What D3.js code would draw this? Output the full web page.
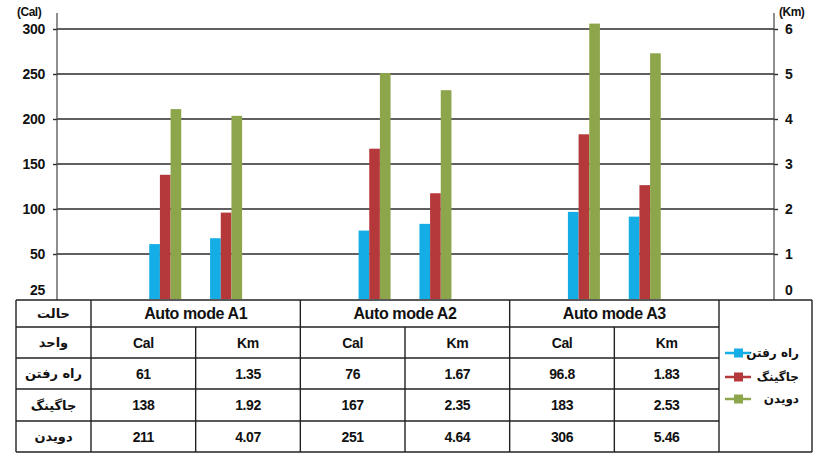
<!DOCTYPE html>
<html>
<head>
<meta charset="utf-8">
<script src="https://cdn.jsdelivr.net/npm/d3@7"></script>
<style>
  body { margin: 0; background: #fff; }
  svg { display: block; font-family: "Liberation Sans", Arial, "DejaVu Sans", sans-serif; font-weight: bold; }
  .fa { font-family: "DejaVu Sans", "Noto Sans", sans-serif; }
</style>
</head>
<body>
<svg id="chart" width="830" height="453"></svg>
<script>
// ---- data ----
const modes = ["Auto mode A1", "Auto mode A2", "Auto mode A3"];
const units = ["Cal", "Km"];
const seriesNames = ["راه رفتن", "جاگینگ", "دویدن"];
const rowHeader = "حالت";
const unitHeader = "واحد";

const calWalk = [61, 76, 96.8];
const calJog  = [138, 167, 183];
const calRun  = [211, 251, 306];
const kmWalk  = [1.35, 1.67, 1.83];
const kmJog   = [1.92, 2.35, 2.53];
const kmRun   = [4.07, 4.64, 5.46];

const calTicks = [0, 50, 100, 150, 200, 250, 300];
const calTickLabels = ["25", "50", "100", "150", "200", "250", "300"];
const kmTicks = [0, 1, 2, 3, 4, 5, 6];
const kmTickLabels = ["0", "1", "2", "3", "4", "5", "6"];
const calUnitLabel = "(Cal)";
const kmUnitLabel = "(Km)";

const colors = ["#14ade6", "#b5393b", "#8da54b"];

// ---- layout ----
const svg = d3.select("#chart");
const axisLeftX = 57, axisRightX = 774, axisTop = 13;
const tableLeft = 16, tableRight = 812;
const rowEdges = [300, 327, 358, 389, 421, 452];

const yCal = d3.scaleLinear().domain([0, 300]).range([299, 29]);
const yKm  = d3.scaleLinear().domain([0, 6]).range([299, 29]);

const x0 = d3.scaleBand().domain(modes).range([91, 719]);
const x1 = d3.scalePoint().domain(units).range([0, x0.bandwidth()]).padding(1.22);
const xs = d3.scaleBand().domain(seriesNames).range([-16, 16]);

const calSeries = [calWalk, calJog, calRun];
const kmSeries = [kmWalk, kmJog, kmRun];

// gridlines
svg.append("g").selectAll("line")
  .data(calTicks.filter(t => t > 0))
  .join("line")
  .attr("x1", axisLeftX).attr("x2", axisRightX)
  .attr("y1", d => yCal(d)).attr("y2", d => yCal(d))
  .attr("stroke", "#2b2b2b").attr("stroke-width", 1.4);

// bars
const barData = [];
modes.forEach((m, i) => {
  units.forEach(u => {
    seriesNames.forEach((s, k) => {
      const v = (u === "Cal" ? calSeries : kmSeries)[k][i];
      barData.push({ m, u, s, k, v });
    });
  });
});
svg.append("g").selectAll("rect")
  .data(barData)
  .join("rect")
  .attr("x", d => x0(d.m) + x1(d.u) + xs(d.s))
  .attr("width", xs.bandwidth())
  .attr("y", d => (d.u === "Cal" ? yCal : yKm)(d.v))
  .attr("height", d => { const sc = d.u === "Cal" ? yCal : yKm; return sc(0) - sc(d.v); })
  .attr("fill", d => colors[d.k]);

// axes
function styleAxis(g) {
  g.select(".domain").remove();
  g.selectAll(".tick line").attr("stroke", "#2b2b2b").attr("stroke-width", 1.4)
    .filter(d => d === 0).remove();
  g.selectAll(".tick text")
    .attr("fill", "#111")
    .style("font-size", "14px")
    .style("font-weight", "bold")
    .style("letter-spacing", "-0.3px")
    .style("font-family", "\"Liberation Sans\", Arial, sans-serif")
    .filter(d => d === 0).attr("y", -9);
}
const gl = svg.append("g").attr("transform", `translate(${axisLeftX},0)`)
  .call(d3.axisLeft(yCal).tickValues(calTicks).tickSize(4).tickPadding(8)
    .tickFormat((d, i) => calTickLabels[i]));
styleAxis(gl);
const gr = svg.append("g").attr("transform", `translate(${axisRightX},0)`)
  .call(d3.axisRight(yKm).tickValues(kmTicks).tickSize(4).tickPadding(7)
    .tickFormat((d, i) => kmTickLabels[i]));
styleAxis(gr);

[axisLeftX, axisRightX].forEach(x => {
  svg.append("line").attr("x1", x).attr("x2", x).attr("y1", axisTop).attr("y2", rowEdges[0])
    .attr("stroke", "#444").attr("stroke-width", 1.2);
});

svg.append("text").attr("x", 17).attr("y", 16).text(calUnitLabel)
  .style("font-size", "12px").style("letter-spacing", "-0.5px").attr("fill", "#111");
svg.append("text").attr("x", 779).attr("y", 16).text(kmUnitLabel)
  .style("font-size", "12px").style("letter-spacing", "-0.5px").attr("fill", "#111");

// ---- data table ----
const tg = svg.append("g");
const lineColor = "#222", lw = 1.4;
function hline(y, xa, xb) {
  tg.append("line").attr("x1", xa).attr("x2", xb).attr("y1", y).attr("y2", y)
    .attr("stroke", lineColor).attr("stroke-width", lw);
}
function vline(x, ya, yb) {
  tg.append("line").attr("x1", x).attr("x2", x).attr("y1", ya).attr("y2", yb)
    .attr("stroke", lineColor).attr("stroke-width", lw);
}
const modeEnd = x0.range()[1];
hline(rowEdges[0], tableLeft, tableRight);
rowEdges.slice(1, -1).forEach(y => hline(y, tableLeft, modeEnd));
hline(rowEdges[rowEdges.length - 1], tableLeft, tableRight);
vline(tableLeft, rowEdges[0], rowEdges[5]);
vline(tableRight, rowEdges[0], rowEdges[5]);
modes.forEach(m => {
  vline(x0(m), rowEdges[0], rowEdges[5]);
  vline(x0(m) + x0.bandwidth() / 2, rowEdges[1], rowEdges[5]);
});
vline(modeEnd, rowEdges[0], rowEdges[5]);

const rowMid = i => (rowEdges[i] + rowEdges[i + 1]) / 2;
const firstColMid = (tableLeft + x0.range()[0]) / 2;

function cellText(x, y, t, size, cls) {
  tg.append("text").attr("x", x).attr("y", y).attr("dy", "0.36em")
    .attr("text-anchor", "middle").attr("class", cls || null)
    .style("font-size", size + "px").style("letter-spacing", cls ? null : "-0.4px")
    .attr("fill", "#111").text(t);
}
cellText(firstColMid, rowMid(0), rowHeader, 13, "fa");
cellText(firstColMid, rowMid(1), unitHeader, 13, "fa");
seriesNames.forEach((s, k) => cellText(firstColMid, rowMid(k + 2), s, 13, "fa"));

modes.forEach((m, i) => {
  cellText(x0(m) + x0.bandwidth() / 2, rowMid(0), m, 16);
  units.forEach((u, j) => {
    const cx = x0(m) + x0.bandwidth() / 4 + j * x0.bandwidth() / 2;
    cellText(cx, rowMid(1), u, 14);
    seriesNames.forEach((s, k) => {
      const v = (u === "Cal" ? calSeries : kmSeries)[k][i];
      cellText(cx, rowMid(k + 2), String(v), 14);
    });
  });
});

// ---- legend ----
const lg = svg.append("g");
const legendY = [353, 377, 399];
seriesNames.forEach((s, k) => {
  const y = legendY[k];
  lg.append("line").attr("x1", 725).attr("x2", 751).attr("y1", y).attr("y2", y)
    .attr("stroke", colors[k]).attr("stroke-width", 2.5);
  lg.append("rect").attr("x", 734).attr("y", y - 4.5).attr("width", 9).attr("height", 9)
    .attr("fill", colors[k]);
  lg.append("text").attr("x", 799).attr("y", y).attr("dy", "0.36em")
    .attr("text-anchor", "end").attr("class", "fa")
    .style("font-size", "12px").attr("fill", "#111").text(s);
});
</script>
</body>
</html>
